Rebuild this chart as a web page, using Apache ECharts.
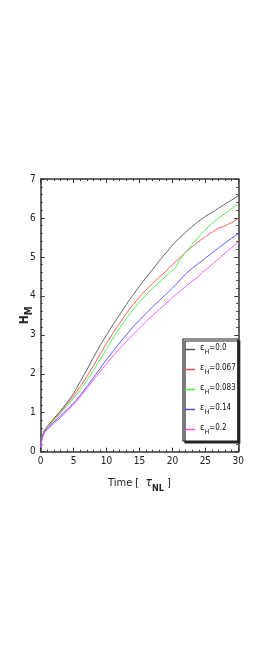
<!DOCTYPE html>
<html>
<head>
<meta charset="utf-8">
<script src="https://cdn.jsdelivr.net/npm/echarts@6/dist/echarts.min.js"></script>
<style>
html,body{margin:0;padding:0;background:#fff;}
#c{width:270px;height:649px;}
</style>
</head>
<body>
<div id="c"></div>
<script>
var times = [0,0.2,0.6,1,2,3,4,5,6,7,8,9,10,11,12,13,14,15,16,17,18,19,20,20.5,21,22,23,24,24.5,25,26,27,28,29,30];
var eps00  = [0.13,0.38,0.56,0.65,0.85,1.05,1.26,1.5,1.8,2.1,2.42,2.72,3.0,3.27,3.52,3.78,4.02,4.25,4.47,4.68,4.9,5.1,5.3,5.39,5.48,5.63,5.78,5.92,5.98,6.04,6.14,6.25,6.36,6.46,6.57];
var eps067 = [0.13,0.38,0.56,0.64,0.83,1.02,1.22,1.43,1.67,1.93,2.2,2.5,2.78,3.05,3.3,3.55,3.77,3.97,4.15,4.32,4.48,4.63,4.8,4.88,4.96,5.12,5.26,5.4,5.46,5.52,5.63,5.74,5.8,5.88,5.99];
var eps083 = [0.13,0.37,0.55,0.63,0.8,0.98,1.17,1.37,1.59,1.82,2.08,2.36,2.64,2.92,3.18,3.42,3.64,3.84,4.03,4.2,4.35,4.5,4.66,4.72,4.9,5.12,5.32,5.52,5.61,5.7,5.86,6.0,6.12,6.24,6.35];
var eps14  = [0.12,0.35,0.52,0.6,0.76,0.92,1.08,1.25,1.45,1.67,1.9,2.13,2.37,2.58,2.8,3.0,3.2,3.38,3.55,3.72,3.88,4.04,4.2,4.29,4.38,4.56,4.71,4.84,4.9,4.97,5.1,5.23,5.36,5.48,5.6];
var eps2   = [0.1,0.33,0.5,0.57,0.72,0.88,1.04,1.21,1.41,1.62,1.84,2.05,2.26,2.46,2.65,2.83,3.0,3.17,3.34,3.5,3.65,3.8,3.96,4.03,4.1,4.24,4.38,4.5,4.6,4.66,4.8,4.95,5.1,5.24,5.39];
var seriesNames = ['0.0','0.067','0.083','0.14','0.2'];
var seriesValues = [eps00, eps067, eps083, eps14, eps2];
var seriesColors = ['#555555','#ff4a4a','#44ee44','#4a4aff','#ff4aff'];

function pairs(v){ return times.map(function(t,i){ return [t, v[i]]; }); }

var chart = echarts.init(document.getElementById('c'), null, {renderer:'canvas'});
var font = "'DejaVu Sans Condensed','Liberation Sans Narrow','Liberation Sans',sans-serif";
var axisCommon = {
  axisLine:{show:true, onZero:false, lineStyle:{color:'#333', width:1.5}},
  axisTick:{show:true, inside:true, length:4, lineStyle:{color:'#333', width:1}},
  minorTick:{show:true, splitNumber:5, length:2, lineStyle:{color:'#333', width:1}},
  splitLine:{show:false}
};
function ax(extra){ return Object.assign({}, JSON.parse(JSON.stringify(axisCommon)), extra); }

var option = {
  backgroundColor:'#fff',
  animation:false,
  grid:{left:40.7, right:31.7, top:179, bottom:197.3, containLabel:false, outerBoundsMode:'none'},
  xAxis:[
    ax({type:'value', min:0, max:30, interval:5, position:'bottom',
      axisLabel:{color:'#222', fontSize:10, fontFamily:font, margin:5},
      name:'{a|Time [  }{b|τ}{c|NL}{a| ]}', nameLocation:'middle', nameGap:25, nameMoveOverlap:false,
      nameTextStyle:{rich:{
        a:{fontSize:11, fontFamily:font, color:'#222', verticalAlign:'bottom', padding:[0,0,4,0]},
        b:{fontSize:12, fontFamily:font, color:'#222', fontStyle:'italic', verticalAlign:'bottom', padding:[0,0,4,0]},
        c:{fontSize:9, fontFamily:font, color:'#222', fontWeight:'bold', verticalAlign:'bottom'}
      }}
    }),
    ax({type:'value', min:0, max:30, interval:5, position:'top', axisLabel:{show:false}})
  ],
  yAxis:[
    ax({type:'value', min:0, max:7, interval:1, position:'left',
      axisLabel:{color:'#222', fontSize:10, fontFamily:font, margin:5},
      name:'{h|H}{m|M}', nameLocation:'middle', nameGap:6, nameRotate:90, nameMoveOverlap:false,
      nameTextStyle:{rich:{
        h:{fontSize:12, fontFamily:font, fontWeight:'bold', color:'#222', verticalAlign:'bottom', padding:[0,0,4,0]},
        m:{fontSize:10, fontFamily:font, fontWeight:'bold', color:'#222', verticalAlign:'bottom'}
      }}
    }),
    ax({type:'value', min:0, max:7, interval:1, position:'right', axisLabel:{show:false}})
  ],
  legend:{
    orient:'vertical', left:183, top:339,
    itemWidth:10, itemHeight:1.5, itemGap:7, icon:'rect',
    padding:[4,2,5,2],
    backgroundColor:'#fff', borderColor:'#222', borderWidth:1.2, borderRadius:0,
    shadowColor:'#222', shadowOffsetX:2, shadowOffsetY:2, shadowBlur:0,
    data:seriesNames.map(function(n){ return {name:n}; }),
    formatter:function(n){ return '{e|ε}{s|H}{t|=' + n + '}'; },
    textStyle:{rich:{
      e:{fontSize:9, fontFamily:font, color:'#111', verticalAlign:'bottom', padding:[0,0,4,0]},
      s:{fontSize:7, fontFamily:font, color:'#111', verticalAlign:'bottom'},
      t:{fontSize:8, fontFamily:font, color:'#111', verticalAlign:'bottom', padding:[0,0,4,0]}
    }}
  },
  series: seriesNames.map(function(n,i){
    return {name:n, type:'line', data:pairs(seriesValues[i]), showSymbol:false, symbol:'none',
      color:seriesColors[i], lineStyle:{color:seriesColors[i], width:0.9}, smooth:false};
  })
};
chart.setOption(option);
</script>
</body>
</html>
